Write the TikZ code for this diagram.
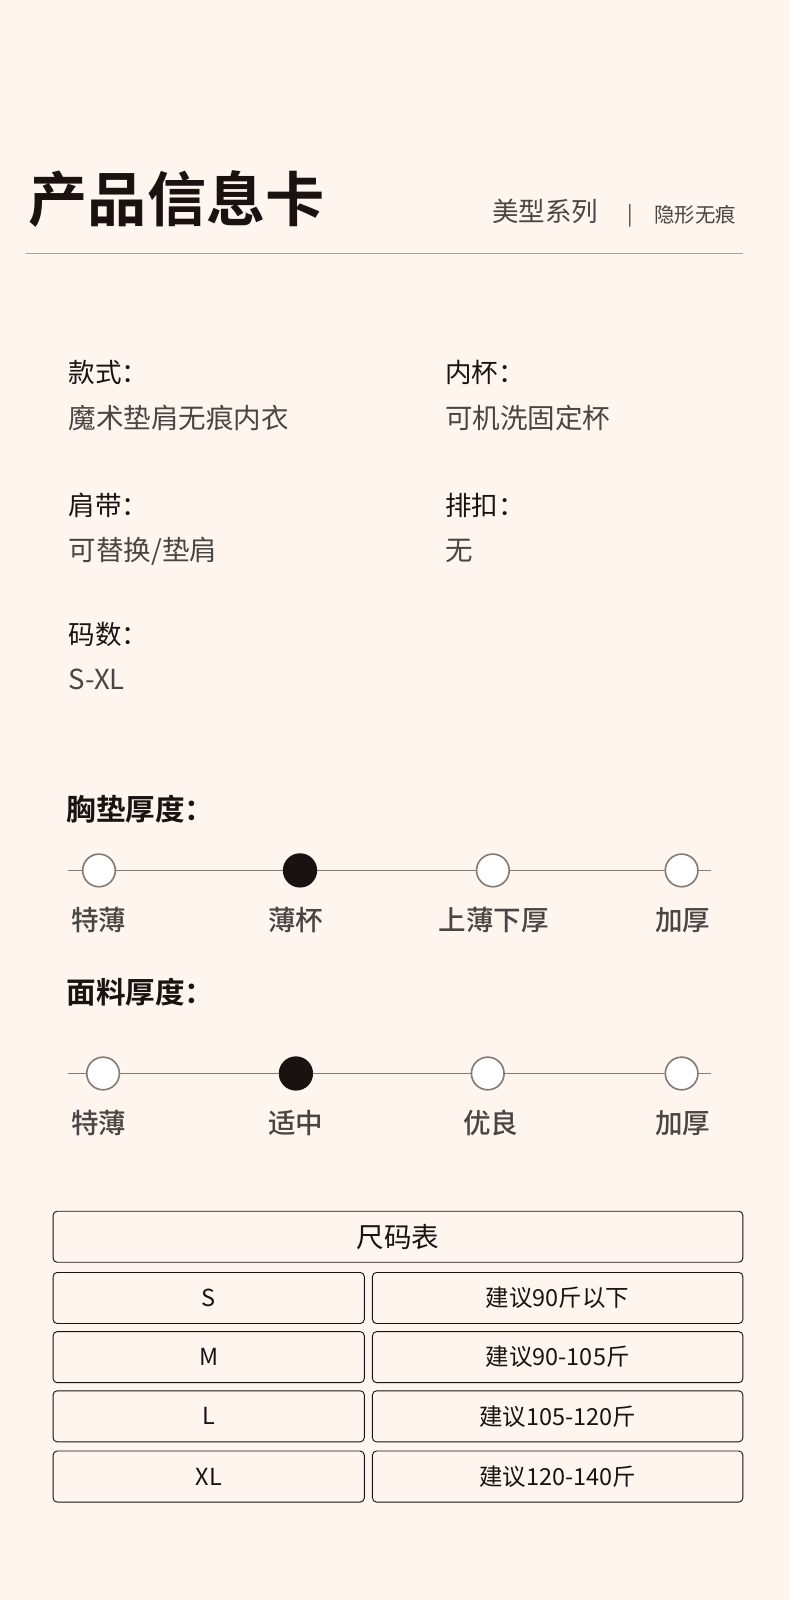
\documentclass[tikz,border=0pt]{standalone}
\usepackage{fontspec}
\setmainfont{Noto Sans CJK SC}
\newfontfamily\cjkb{Noto Sans CJK SC Bold}
\newfontfamily\cjkm{Noto Sans CJK SC Medium}
\definecolor{bg}{HTML}{FDF5EE}
\definecolor{ink}{HTML}{1A1210}
\definecolor{gry}{HTML}{4A4442}
\definecolor{lin}{HTML}{857B76}
\tikzset{x=1pt,y=-1pt,
 lab/.style={anchor=west,text=ink,font=\fontsize{26}{26}\selectfont,inner sep=0},
 val/.style={anchor=west,text=gry,font=\fontsize{27}{27}\selectfont,inner sep=0},
 head/.style={anchor=west,text=ink,font=\cjkb\fontsize{29}{29}\selectfont,inner sep=0},
 tick/.style={text=gry,font=\cjkm\fontsize{27}{27}\selectfont,inner sep=0},
 dot/.style={circle,draw=lin,line width=1.6pt,fill=white,minimum size=32pt,inner sep=0},
 fdot/.style={dot,fill=ink,draw=ink},
 cell/.style={draw=ink,line width=0.9pt,rounded corners=4pt,inner sep=0,text=ink,font=\fontsize{23}{23}\selectfont}}
\begin{document}
\begin{tikzpicture}
\fill[bg] (0,0) rectangle (774,1568);
\useasboundingbox (0,0) rectangle (774,1568);
\node[anchor=west,text=ink,font=\cjkb\fontsize{58}{58}\selectfont,inner sep=0] (title) at (28,195) {产品信息卡};
\node[anchor=west,text=gry,font=\fontsize{26}{26}\selectfont,inner sep=0] (s1) at (482,207) {美型系列};
\node[text=gry,font=\fontsize{20}{20}\selectfont,inner sep=0] (bar) at (618,211) {|};
\node[anchor=west,text=gry,font=\fontsize{20}{20}\selectfont,inner sep=0] (s2) at (641,210) {隐形无痕};
\draw[lin!70,line width=0.8pt] (25,248) coordinate (l1) -- (728,248) coordinate (l2);

\node[lab] (a1) at (67,365) {款式：};
\node[val] (a2) at (67,410) {魔术垫肩无痕内衣};
\node[lab] (b1) at (436,365) {内杯：};
\node[val] (b2) at (436,410) {可机洗固定杯};
\node[lab] (c1) at (67,495) {肩带：};
\node[val] (c2) at (67,540) {可替换/垫肩};
\node[lab] (d1) at (436,495) {排扣：};
\node[val] (d2) at (436,540) {无};
\node[lab] (e1) at (67,622) {码数：};
\node[val] (e2) at (67,666) {S-XL};

\node[head] (h1) at (65,793) {胸垫厚度：};
\coordinate (p0) at (67,853); \coordinate (p5) at (697,853);
\draw[lin,line width=1.8pt] (p0) -- (p5);
\node[dot] (p1) at (97,853) {}; \node[fdot] (p2) at (294,853) {};
\node[dot] (p3) at (483,853) {}; \node[dot] (p4) at (668,853) {};
\node[tick] (t1) at (97,902) {特薄}; \node[tick] (t2) at (290,902) {薄杯};
\node[tick] (t3) at (484,902) {上薄下厚}; \node[tick] (t4) at (669,902) {加厚};

\node[head] (h2) at (65,972) {面料厚度：};
\coordinate (q0) at (67,1052); \coordinate (q5) at (697,1052);
\draw[lin,line width=1.8pt] (q0) -- (q5);
\node[dot] (q1) at (101,1052) {}; \node[fdot] (q2) at (290,1052) {};
\node[dot] (q3) at (478,1052) {}; \node[dot] (q4) at (668,1052) {};
\node[tick] (u1) at (97,1101) {特薄}; \node[tick] (u2) at (290,1101) {适中};
\node[tick] (u3) at (481,1101) {优良}; \node[tick] (u4) at (669,1101) {加厚};

\node[cell,minimum width=676pt,minimum height=50pt,font=\fontsize{27}{27}\selectfont] (th) at (390,1212) {尺码表};
\foreach \y/\a/\b [count=\i] in {1272/S/建议90斤以下,1330/M/建议90-105斤,1388/L/建议105-120斤,1447/XL/建议120-140斤}{
 \node[cell,minimum width=305pt,minimum height=50pt] (r\i a) at (204.5,\y) {\a};
 \node[cell,minimum width=363pt,minimum height=50pt] (r\i b) at (546.5,\y) {\b};
}
\end{tikzpicture}
\end{document}
